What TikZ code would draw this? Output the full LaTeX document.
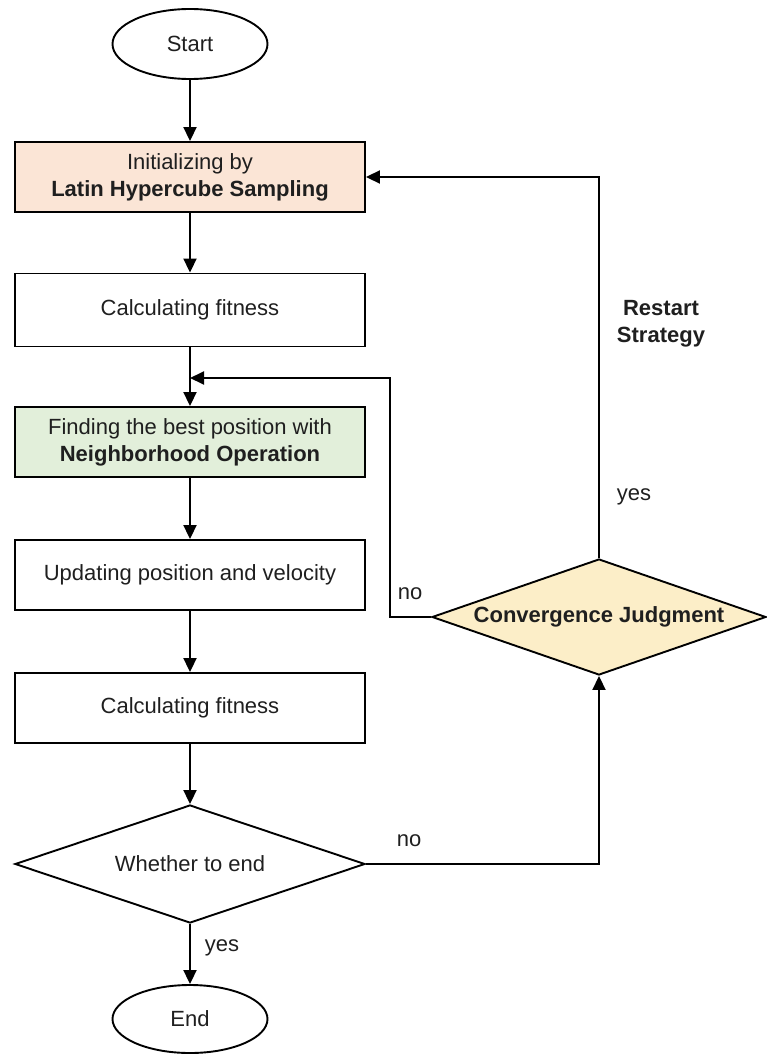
\documentclass[tikz,border=0pt]{standalone}
\usepackage{fontspec}
\setmainfont{Liberation Sans}
\usetikzlibrary{shapes.geometric,arrows.meta}
\definecolor{peach}{HTML}{FBE5D6}
\definecolor{mint}{HTML}{E2EFDA}
\definecolor{cream}{HTML}{FCEEC8}
\begin{document}
\begin{tikzpicture}[x=1pt,y=-1pt,
  line width=1.9pt,
  every node/.style={font=\fontsize{22}{27}\selectfont, text=black!88},
  procbox/.style={draw, rectangle, minimum width=350pt, minimum height=70pt, inner sep=0pt, align=center},
  term/.style={draw, ellipse, minimum width=155pt, minimum height=70pt, inner sep=0pt},
  decide/.style={draw, diamond, inner sep=0pt, aspect=3},
  flow/.style={-{Triangle[length=14pt,width=13pt]}},
  lbl/.style={inner sep=0pt}
]
\useasboundingbox (0,0) rectangle (766,1054);

\node[term] (start) at (190,44) {Start};
\node[procbox, fill=peach] (init) at (190,177) {Initializing by\\\textbf{Latin Hypercube Sampling}};
\node[procbox, minimum height=73pt] (calc1) at (190,310) {Calculating fitness};
\node[procbox, fill=mint] (find) at (190,442) {Finding the best position with\\\textbf{Neighborhood Operation}};
\node[procbox] (upd) at (190,575) {Updating position and velocity};
\node[procbox] (calc2) at (190,708) {Calculating fitness};
\node[decide, minimum width=350pt, minimum height=118pt] (whether) at (190,864) {Whether to end};
\node[term, minimum height=68pt] (stop) at (190,1019) {End};
\node[decide, fill=cream, minimum width=334pt, minimum height=116pt, font=\fontsize{22}{27}\selectfont\bfseries] (conv) at (599,617) {Convergence Judgment};

\coordinate (merge) at (190,378);
\coordinate (nocorner) at (390,378);

\draw[flow] (start) -- (init);
\draw[flow] (init) -- (calc1);
\draw[flow] (calc1) -- (find);
\draw[flow] (find) -- (upd);
\draw[flow] (upd) -- (calc2);
\draw[flow] (calc2) -- (whether);
\draw[flow] (whether) -- (stop);
\draw[flow] (whether.east) -| (conv.south);
\draw[flow] (conv.west) -| (nocorner) -- (merge);
\draw[flow] (conv.north) |- (init.east);

\node[lbl, anchor=west] (yes1) at (204,948) {yes};
\node[lbl] (no1) at (409,841) {no};
\node[lbl] (no2) at (410,594) {no};
\node[lbl] (yes2) at (634,497) {yes};
\node[lbl, align=center, font=\fontsize{22}{27}\selectfont\bfseries] (restart) at (661,324) {Restart\\Strategy};
\end{tikzpicture}
\end{document}
